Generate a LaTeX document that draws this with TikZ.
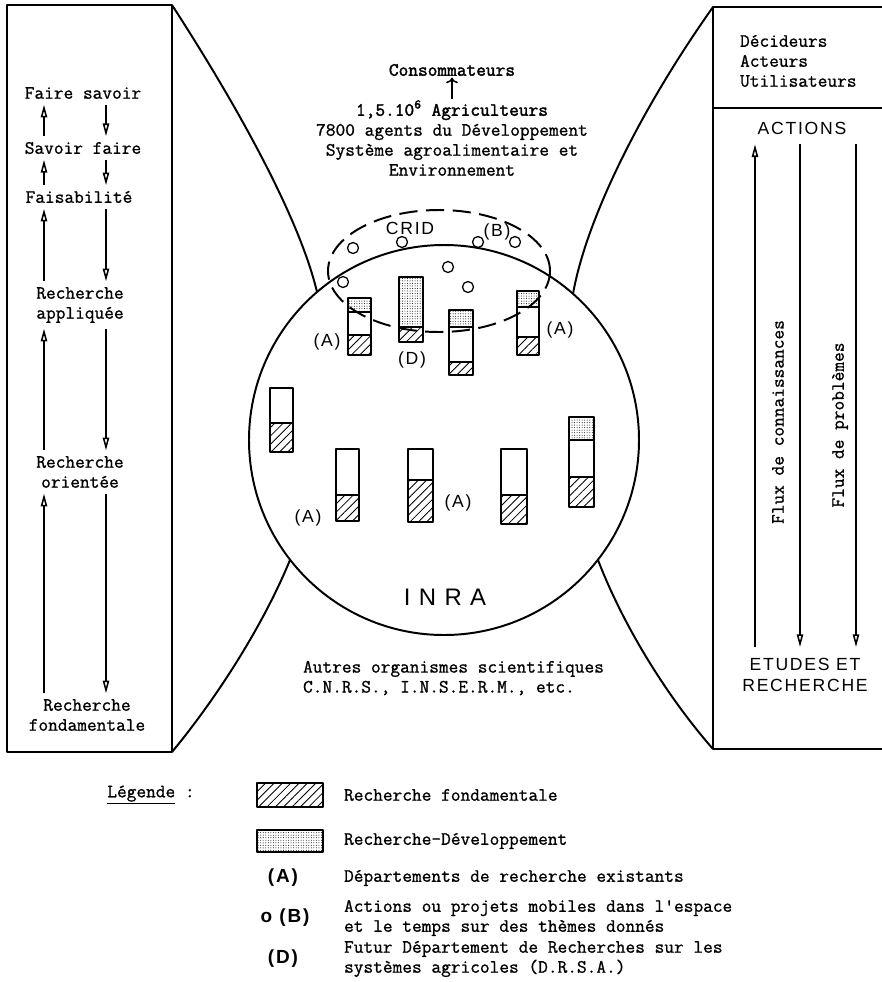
\documentclass[tikz,border=0pt]{standalone}
\usepackage{fontspec}
\newfontfamily\typewriter{Latin Modern Mono}[FakeBold=1]
\newfontfamily\typewriterdark{Latin Modern Mono}[FakeBold=2]
\newfontfamily\lettering[LetterSpace=10]{Liberation Sans}
\newfontfamily\bigletter[LetterSpace=35]{Liberation Sans}
\usetikzlibrary{arrows.meta,patterns.meta}

\tikzset{
  txt/.style={font=\typewriter\fontsize{13.4}{14.2}\selectfont, inner xsep=2pt, inner ysep=4pt},
  sans/.style={font=\lettering\fontsize{12.5}{14.5}\selectfont, inner sep=2pt},
  symb/.style={font=\lettering\bfseries\fontsize{13.5}{15}\selectfont, inner sep=2pt},
  frame/.style={line width=1.4pt},
  flux/.style={line width=1.1pt, -{Triangle[open, length=9pt, width=4.5pt]}},
  barre/.style={line width=1.1pt},
  projet/.style={line width=0.9pt},
  crid/.style={line width=1.4pt, dash pattern=on 13pt off 6pt},
  hachure/.style={pattern={Lines[angle=45, distance=4.2pt, line width=0.6pt]}},
  pointille/.style={pattern={Dots[distance=1.8pt, radius=0.35pt]}}
}

\begin{document}
\begin{tikzpicture}[x=0.025cm, y=-0.025cm, line join=round]
  \useasboundingbox (0,0) rectangle (882,982);

  % coins des cadres
  \coordinate (gh) at (172,5);
  \coordinate (gb) at (172,752);
  \coordinate (dh) at (713,7);
  \coordinate (db) at (713,749);
  % points du cercle INRA
  \coordinate (centre) at (444,440);
  \coordinate (c1) at (317,292);
  \coordinate (c2) at (290,560);
  \coordinate (c3) at (573,294);
  \coordinate (c4) at (598,560);

  % cadres
  \draw[frame] (7,5) rectangle (gb);
  \draw[frame] (882,7) -- (dh) -- (db) -- (882,749);
  \draw[line width=1pt] (713,108) -- (882,108);

  % cercle et raccords courbes
  \draw[frame] (centre) circle[radius=195];
  \draw[frame] (gh) .. controls (240,110) and (300,220) .. (c1);
  \draw[frame] (c2) .. controls (262,628) and (215,700) .. (gb);
  \draw[frame] (dh) .. controls (640,110) and (586,220) .. (c3);
  \draw[frame] (c4) .. controls (625,630) and (670,700) .. (db);

  % cadre gauche
  \node[txt] (fsav) at (83,93) {Faire savoir};
  \node[txt] (savf) at (83,148) {Savoir faire};
  \node[txt] (faisa) at (79,197) {Faisabilité};
  \node[txt, align=center] (rapp) at (80,305) {Recherche\\appliquée};
  \node[txt, align=center] (rori) at (80,472) {Recherche\\orientée};
  \node[txt, align=center] (rfond) at (87,715) {Recherche\\fondamentale};
  \coordinate (montee) at (44,0);
  \coordinate (descente) at (106,0);
  \foreach \bas/\haut in {savf/fsav, faisa/savf, rapp/faisa, rori/rapp, rfond/rori} {
    \draw[flux] (\bas.north -| montee) -- (\haut.south -| montee);
    \draw[flux] (\haut.south -| descente) -- (\bas.north -| descente);
  }

  % cadre droit
  \node[txt, anchor=west, align=left] (acteurs) at (737,61) {Décideurs\\Acteurs\\Utilisateurs};
  \node[sans] (actions) at (802,128) {ACTIONS};
  \node[sans, align=center] (etudes) at (805,675) {ETUDES ET\\RECHERCHE};
  \coordinate (col1) at (755,0);
  \coordinate (col2) at (800,0);
  \coordinate (col3) at (856,0);
  \draw[flux] ([yshift=6pt]etudes.north -| col1) -- ([yshift=-5pt]actions.south -| col1);
  \draw[flux] ([yshift=-5pt]actions.south -| col2) -- ([yshift=6pt]etudes.north -| col2);
  \draw[flux] ([yshift=-5pt]actions.south -| col3) -- ([yshift=6pt]etudes.north -| col3);
  \node[txt, rotate=90] (fconn) at (778,422) {Flux de connaissances};
  \node[txt, rotate=90] (fprob) at (840,425) {Flux de problèmes};

  % milieu haut
  \node[txt, inner ysep=1pt, font=\typewriterdark\fontsize{13.4}{14.2}\selectfont] (conso) at (452,70) {Consommateurs};
  \node[txt, inner ysep=1pt, align=center] (milieu) at (452,138)
    {{\typewriterdark 1,5.10\textsuperscript{6} Agriculteurs}\\7800 agents du Développement\\Système agroalimentaire et\\Environnement};
  \draw[line width=1.1pt, -{To[length=4pt]}] (milieu) -- (conso);

  % departements (barres)
  \foreach \xa/\xb/\yh/\yp/\yd/\yr in {348/371/298/312/335/355, 399/423/277/327/327/342,
      449/473/310/327/362/375, 517/539/291/307/337/355, 270/293/388/388/423/452,
      336/359/449/449/495/521, 408/433/449/449/480/522, 501/527/449/449/495/524,
      569/594/417/440/477/507} {
    \fill[pointille] (\xa,\yh) rectangle (\xb,\yp);
    \fill[hachure] (\xa,\yd) rectangle (\xb,\yr);
    \draw[line width=0.8pt] (\xa,\yp) -- (\xb,\yp) (\xa,\yd) -- (\xb,\yd);
    \draw[barre] (\xa,\yh) rectangle (\xb,\yr);
  }

  % actions mobiles (B)
  \foreach \x/\y in {353/248, 402/242, 478/242, 515/242, 448/267, 468/287, 343/282} {
    \draw[projet] (\x,\y) circle[radius=5.5];
  }
  \draw[crid] (439,271) ellipse[x radius=111, y radius=61];

  % etiquettes
  \node[sans] (crid) at (410,228) {CRID};
  \node[sans] (b) at (497,232) {(B)};
  \node[sans] (a1) at (327,342) {(A)};
  \node[sans] (d) at (412,360) {(D)};
  \node[sans] (a2) at (560,330) {(A)};
  \node[sans] (a3) at (308,518) {(A)};
  \node[sans] (a4) at (458,503) {(A)};
  \node[font=\bigletter\fontsize{17}{20}\selectfont] (inra) at (445,597) {INRA};

  \node[txt, anchor=west, align=left] (autres) at (300,678)
    {Autres organismes scientifiques\\C.N.R.S., I.N.S.E.R.M., etc.};

  % legende
  \node[txt] (legende) at (151,795) {\underline{Légende}~:};
  \fill[hachure] (257,783) rectangle (323,807);
  \draw[barre] (257,783) rectangle (323,807);
  \fill[pointille] (257,830) rectangle (323,852);
  \draw[barre] (257,830) rectangle (323,852);
  \node[txt, anchor=west] (lrf) at (341,795) {Recherche fondamentale};
  \node[txt, anchor=west] (lrd) at (341,841) {Recherche-Développement};
  \node[symb] (la) at (283,878) {(A)};
  \node[txt, anchor=west] (lda) at (341,878) {Départements de recherche existants};
  \node[symb] (lb) at (285,918) {o (B)};
  \node[txt, anchor=west, align=left] (ldb) at (341,918)
    {Actions ou projets mobiles dans l\textquotesingle espace\\et le temps sur des thèmes donnés};
  \node[symb] (ld) at (283,959) {(D)};
  \node[txt, anchor=west, align=left] (ldd) at (341,959)
    {Futur Département de Recherches sur les\\systèmes agricoles (D.R.S.A.)};
\end{tikzpicture}
\end{document}
